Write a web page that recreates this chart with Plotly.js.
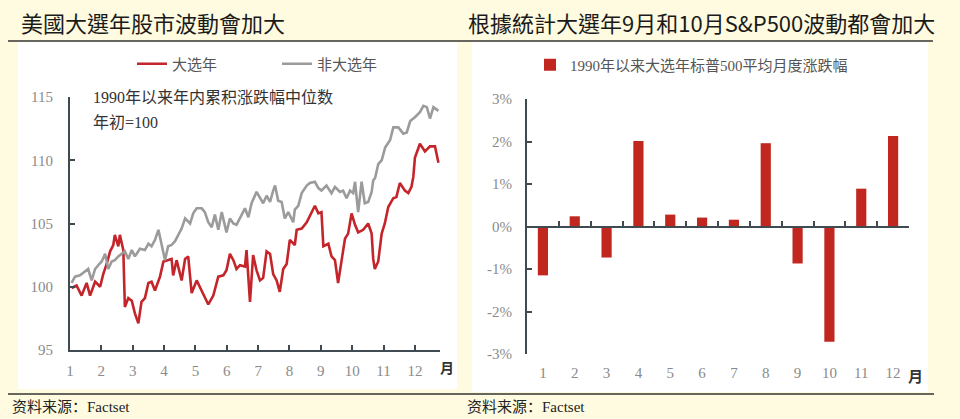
<!DOCTYPE html>
<html><head><meta charset="utf-8">
<script src="https://cdn.plot.ly/plotly-3.0.1.min.js"></script>
<style>html,body{margin:0;padding:0;background:#fffbe0;} #chart{width:960px;height:419px;}</style>
</head><body><div id="chart"></div>
<script>
// ---- data ----
const electionX = [1.05,1.21,1.37,1.53,1.64,1.80,1.96,2.06,2.17,2.28,2.38,2.43,2.54,2.59,2.70,2.75,2.86,2.97,3.07,3.18,3.28,3.39,3.50,3.60,3.71,3.87,3.98,4.08,4.24,4.29,4.40,4.56,4.67,4.77,4.88,5.04,5.20,5.30,5.41,5.57,5.73,5.89,5.99,6.10,6.21,6.31,6.42,6.58,6.63,6.74,6.84,6.95,7.06,7.16,7.27,7.38,7.48,7.59,7.69,7.80,7.91,8.01,8.17,8.23,8.39,8.55,8.70,8.81,8.92,9.02,9.08,9.24,9.34,9.45,9.55,9.66,9.77,9.87,9.98,10.09,10.19,10.35,10.51,10.62,10.67,10.72,10.83,10.94,11.04,11.15,11.31,11.41,11.52,11.68,11.79,11.89,11.95,12.00,12.16,12.32,12.48,12.64,12.75];
const electionY = [99.9,100.1,99.3,100.3,99.3,100.4,100.0,101.0,101.8,102.8,103.3,104.1,103.2,104.1,102.9,98.4,99.1,98.9,97.9,97.1,98.8,99.1,100.3,100.4,99.7,100.8,102.0,102.1,102.2,100.9,102.1,100.5,102.2,102.4,99.5,100.5,99.7,99.2,98.6,99.3,100.8,100.9,101.3,102.6,102.1,101.4,101.7,101.6,102.9,98.8,102.5,101.3,100.5,100.7,102.8,102.6,101.0,100.5,99.6,101.4,101.8,103.7,103.3,104.5,104.6,105.1,105.8,106.4,105.8,105.9,103.2,103.4,102.4,102.1,100.3,102.1,103.8,104.2,105.8,104.9,104.3,104.5,105.0,104.2,102.2,101.4,102.0,104.2,105.0,106.3,107.0,107.1,108.2,107.6,107.4,107.9,108.7,110.2,111.3,110.7,111.1,111.1,109.8];
const otherX = [1.05,1.16,1.32,1.48,1.58,1.69,1.80,1.90,2.01,2.12,2.22,2.33,2.43,2.54,2.65,2.75,2.86,2.97,3.07,3.23,3.39,3.50,3.60,3.71,3.82,3.92,4.03,4.13,4.24,4.35,4.45,4.56,4.67,4.83,4.93,5.04,5.20,5.30,5.41,5.52,5.62,5.73,5.84,5.99,6.10,6.21,6.31,6.42,6.58,6.69,6.79,6.95,7.06,7.16,7.27,7.38,7.48,7.54,7.64,7.75,7.85,7.96,8.12,8.17,8.28,8.39,8.55,8.65,8.81,8.92,9.02,9.18,9.34,9.45,9.61,9.71,9.82,9.93,10.03,10.09,10.19,10.30,10.40,10.51,10.62,10.67,10.73,10.83,10.94,11.05,11.21,11.31,11.47,11.63,11.74,11.85,12.00,12.16,12.27,12.38,12.48,12.59,12.75];
const otherY = [100.3,100.8,100.9,101.2,101.4,100.5,101.4,101.7,102.0,102.6,101.4,102.0,102.1,102.4,102.6,102.8,102.2,102.9,102.4,103.0,102.9,103.4,103.2,103.7,104.5,103.3,102.1,103.2,103.3,103.6,104.1,104.6,105.4,105.0,105.8,106.2,106.2,105.9,105.1,104.7,105.7,104.5,105.9,104.3,105.4,105.0,104.9,105.4,106.2,105.5,106.6,107.5,107.0,106.6,107.2,106.7,107.6,108.0,106.8,106.7,105.4,105.9,105.1,106.1,106.4,107.4,108.0,108.2,108.3,107.8,107.6,108.0,107.4,107.9,107.5,107.6,107.0,107.6,107.4,108.3,105.9,108.3,106.6,106.7,107.5,108.4,108.6,109.7,110.0,111.0,111.6,112.6,112.6,112.1,112.2,113.1,113.4,113.8,114.3,114.2,113.3,114.2,113.9];
const monthTicks = [1,2,3,4,5,6,7,8,9,10,11,12];
const monthLabels = ['1','2','3','4','5','6','7','8','9','10','11','12'];
const leftYTicks = [95,100,105,110,115];
const leftYLabels = ['95','100','105','110','115'];
const barMonths = [1,2,3,4,5,6,7,8,9,10,11,12];
const barReturnsPct = [-1.15,0.24,-0.73,2.01,0.28,0.21,0.16,1.96,-0.87,-2.71,0.89,2.13];
const rightYTicks = [-3,-2,-1,0,1,2,3];
const rightYLabels = ['-3%','-2%','-1%','0%','1%','2%','3%'];
const seriesNames = ['大选年','非大选年'];
const barName = '1990年以来大选年标普500平均月度涨跌幅';

// ---- helpers ----
const W = 960, H = 419;
const px = x => x / W;
const py = y => 1 - y / H;
const serif = 'Liberation Serif, "Noto Sans CJK SC", serif';
const cjk = '"Noto Sans CJK SC", sans-serif';
const axisCol = '#3f4b50';
const tickCol = '#8a8a8a';
const red = '#c4252a';

const traces = [
  {x: electionX, y: electionY, type: 'scatter', mode: 'lines', name: seriesNames[0],
   line: {color: red, width: 2.6}, xaxis: 'x', yaxis: 'y', legend: 'legend'},
  {x: otherX, y: otherY, type: 'scatter', mode: 'lines', name: seriesNames[1],
   line: {color: '#9b9b9b', width: 2.6}, xaxis: 'x', yaxis: 'y', legend: 'legend'},
  {x: barMonths, y: barReturnsPct, type: 'bar', name: barName, width: 0.32,
   marker: {color: '#c1271f'}, xaxis: 'x2', yaxis: 'y2', legend: 'legend2'},
  {x: [], y: [], type: 'scatter', xaxis: 'x3', yaxis: 'y2', showlegend: false, hoverinfo: 'skip'}
];

const y2Domain = [py(354), py(99)];
const y2Range = [-3, 3];
const zeroPaper = y2Domain[0] + (0 - y2Range[0]) / (y2Range[1] - y2Range[0]) * (y2Domain[1] - y2Domain[0]);

const layout = {
  width: W, height: H,
  margin: {l: 0, r: 0, t: 0, b: 0},
  paper_bgcolor: '#fffbe0',
  plot_bgcolor: 'rgba(0,0,0,0)',
  showlegend: true,
  xaxis: {domain: [px(70), px(440)], range: [1, 12.8], anchor: 'y',
    showline: true, linecolor: axisCol, linewidth: 2, showgrid: false, zeroline: false,
    ticks: 'inside', ticklen: 5, tickwidth: 2, tickcolor: axisCol,
    tickvals: monthTicks, ticktext: monthLabels, ticklabelstandoff: 6,
    tickfont: {family: serif, size: 15, color: tickCol}},
  yaxis: {domain: [py(350), py(97)], range: [95, 115], anchor: 'x',
    showline: true, linecolor: axisCol, linewidth: 2, showgrid: false, zeroline: false,
    ticks: 'inside', ticklen: 5, tickwidth: 2, tickcolor: axisCol,
    tickvals: leftYTicks, ticktext: leftYLabels, ticklabelstandoff: 12,
    tickfont: {family: serif, size: 15, color: tickCol}},
  xaxis2: {domain: [px(527), px(909)], range: [0.5, 12.5], anchor: 'y2',
    showline: false, showgrid: false, zeroline: false, ticks: '',
    tickvals: monthTicks, ticktext: monthLabels, ticklabelstandoff: 8,
    tickfont: {family: serif, size: 15, color: tickCol}},
  xaxis3: {overlaying: 'x2', anchor: 'free', position: zeroPaper, range: [0.5, 12.5],
    showline: true, linecolor: axisCol, linewidth: 2, showgrid: false, zeroline: false,
    ticks: 'inside', ticklen: 5, tickwidth: 2, tickcolor: axisCol,
    tickvals: [0.5,1.5,2.5,3.5,4.5,5.5,6.5,7.5,8.5,9.5,10.5,11.5,12.5], showticklabels: false},
  yaxis2: {domain: y2Domain, range: y2Range, anchor: 'x2',
    showline: true, linecolor: axisCol, linewidth: 2, showgrid: false, zeroline: false,
    ticks: 'inside', ticklen: 5, tickwidth: 2, tickcolor: axisCol,
    tickvals: rightYTicks, ticktext: rightYLabels, ticklabelstandoff: 10,
    tickfont: {family: serif, size: 15, color: tickCol}},
  legend: {orientation: 'h', x: px(132), y: py(64), xanchor: 'left', yanchor: 'middle',
    bgcolor: 'rgba(0,0,0,0)', font: {family: cjk, size: 15, color: '#555'},
    itemwidth: 30, entrywidth: 100, entrywidthmode: 'pixels', tracegroupgap: 0},
  legend2: {orientation: 'h', x: px(530), y: py(65), xanchor: 'left', yanchor: 'middle',
    bgcolor: 'rgba(0,0,0,0)', font: {family: serif, size: 15, color: '#555'}, itemwidth: 30},
  shapes: [
    {type: 'rect', xref: 'paper', yref: 'paper', x0: px(18), x1: px(457), y0: py(389), y1: py(42),
     fillcolor: '#ffffff', line: {width: 0}, layer: 'below'},
    {type: 'rect', xref: 'paper', yref: 'paper', x0: px(472), x1: px(928), y0: py(392), y1: py(42),
     fillcolor: '#ffffff', line: {width: 0}, layer: 'below'},
    {type: 'line', xref: 'paper', yref: 'paper', x0: px(8), x1: px(933), y0: py(41), y1: py(41),
     line: {color: '#333', width: 1.5}},
    {type: 'line', xref: 'paper', yref: 'paper', x0: px(8), x1: px(934), y0: py(394), y1: py(394),
     line: {color: '#333', width: 1.5}}
  ],
  annotations: [
    {text: '美國大選年股市波動會加大', xref: 'paper', yref: 'paper', x: px(19), y: py(22),
     xanchor: 'left', yanchor: 'middle', showarrow: false,
     font: {family: '"Noto Sans CJK TC", sans-serif', size: 22, color: '#1a1a1a'}},
    {text: '根據統計大選年9月和10月S&amp;P500波動都會加大', xref: 'paper', yref: 'paper', x: px(466), y: py(22),
     xanchor: 'left', yanchor: 'middle', showarrow: false,
     font: {family: '"Noto Sans CJK TC", sans-serif', size: 22, color: '#1a1a1a'}},
    {text: '1990年以来年内累积涨跌幅中位数', xref: 'paper', yref: 'paper', x: px(91), y: py(97),
     xanchor: 'left', yanchor: 'middle', showarrow: false,
     font: {family: serif, size: 16, color: '#333'}},
    {text: '年初=100', xref: 'paper', yref: 'paper', x: px(91), y: py(122),
     xanchor: 'left', yanchor: 'middle', showarrow: false,
     font: {family: serif, size: 16, color: '#333'}},
    {text: '<b>月</b>', xref: 'paper', yref: 'paper', x: px(438), y: py(367),
     xanchor: 'left', yanchor: 'middle', showarrow: false,
     font: {family: cjk, size: 14, color: '#333'}},
    {text: '<b>月</b>', xref: 'paper', yref: 'paper', x: px(906), y: py(375),
     xanchor: 'left', yanchor: 'middle', showarrow: false,
     font: {family: cjk, size: 15, color: '#333'}},
    {text: '资料来源：Factset', xref: 'paper', yref: 'paper', x: px(10), y: py(407),
     xanchor: 'left', yanchor: 'middle', showarrow: false,
     font: {family: serif, size: 15, color: '#222'}},
    {text: '资料来源：Factset', xref: 'paper', yref: 'paper', x: px(465), y: py(407),
     xanchor: 'left', yanchor: 'middle', showarrow: false,
     font: {family: serif, size: 15, color: '#222'}}
  ]
};

Plotly.newPlot('chart', traces, layout, {staticPlot: true, displayModeBar: false});
</script></body></html>
